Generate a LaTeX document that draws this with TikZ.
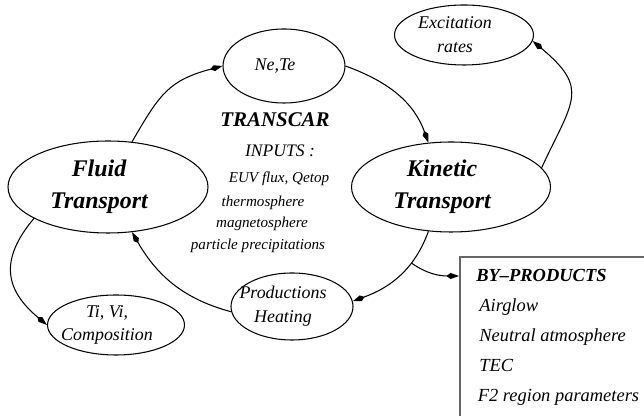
\documentclass[tikz,border=0pt]{standalone}
\usepackage{fontspec}
\setmainfont{Liberation Serif}
\usetikzlibrary{arrows.meta,shapes.geometric}

\tikzset{
  oval/.style={draw, ellipse, line width=0.6pt, inner sep=0pt},
  ovaltext/.style={align=center, xshift=-0.18cm, font=\fontsize{10.2}{13.5}\selectfont\itshape},
  bigtext/.style={align=center, xshift=-0.18cm, font=\fontsize{13.6}{18.5}\selectfont\bfseries\itshape},
  inputtext/.style={anchor=base, inner sep=0pt, font=\fontsize{8.6}{10}\selectfont\itshape},
  byitem/.style={anchor=base west, inner sep=0pt, font=\fontsize{10.5}{12}\selectfont\itshape},
  bybox/.style={draw=black!60, line width=0.9pt, anchor=north west, minimum width=4cm, minimum height=3.6cm},
  flow/.style={line width=0.6pt, -{Kite[length=0.25cm, width=0.12cm, inset=0.08cm]}},
}

\begin{document}
\begin{tikzpicture}
    \useasboundingbox (0,0) rectangle (12.88,8.32);
    \clip (0,0) rectangle (12.88,8.32);

    \node[oval, minimum width=4cm, minimum height=1.84cm, label={[bigtext]center:{Fluid\\Transport}}] (fluid) at (2.16,4.58) {};
    \node[oval, minimum width=3.98cm, minimum height=1.8cm, label={[bigtext]center:{Kinetic\\Transport}}] (kinetic) at (9.02,4.58) {};
    \node[oval, minimum width=2.44cm, minimum height=1.48cm, label={[ovaltext]center:{Ne,Te}}] (nete) at (5.68,7.0) {};
    \node[oval, minimum width=2.78cm, minimum height=1.2cm, label={[ovaltext]center:{Excitation\\rates}}] (excit) at (9.28,7.62) {};
    \node[oval, minimum width=2.44cm, minimum height=1.34cm, label={[ovaltext]center:{Productions\\Heating}}] (prodheat) at (5.84,2.19) {};
    \node[oval, minimum width=2.74cm, minimum height=1.2cm, label={[ovaltext]center:{Ti, Vi,\\Composition}}] (tivi) at (2.32,1.82) {};

    \node[anchor=base, inner sep=0pt, font=\fontsize{11.9}{14}\selectfont\bfseries\itshape] (transcar) at (5.5,5.78) {TRANSCAR};
    \node[inputtext, font=\fontsize{10}{12}\selectfont\itshape] (inputs) at (5.6,5.18) {INPUTS :};
    \node[inputtext] (euv) at (5.58,4.66) {EUV flux, Qetop};
    \node[inputtext] (thermo) at (5.26,4.18) {thermosphere};
    \node[inputtext] (magneto) at (5.24,3.76) {magnetosphere};
    \node[inputtext] (precip) at (5.16,3.32) {particle precipitations};

    \node[bybox] (byprod) at (9.18,3.2) {};
    \node[byitem, font=\fontsize{10.5}{12}\selectfont\bfseries\itshape] (bytitle) at (9.52,2.68) {BY--PRODUCTS};
    \node[byitem] (airglow) at (9.58,2.08) {Airglow};
    \node[byitem] (neutral) at (9.58,1.48) {Neutral atmosphere};
    \node[byitem] (tec) at (9.58,0.88) {TEC};
    \node[byitem] (ftwo) at (9.55,0.28) {F2 region parameters};

    \draw[flow] (fluid.62) to[out=60, in=195, looseness=1.2] (nete.west);
    \draw[flow] (nete.east) to[out=-20, in=110] (kinetic.117);
    \draw[flow] (kinetic.12) to[out=65, in=-40, looseness=1.5] (excit.-5);
    \draw[flow] (kinetic.243) to[out=250, in=20] coordinate[pos=0.33] (split) (prodheat.5);
    \draw[flow] (split) to[out=-35, in=180] (byprod.west |- bytitle);
    \draw[flow] (prodheat.185) to[out=165, in=-60] (fluid.-62);
    \draw[flow] (fluid.203) to[out=230, in=140, looseness=1.3] (tivi.west);
\end{tikzpicture}
\end{document}
